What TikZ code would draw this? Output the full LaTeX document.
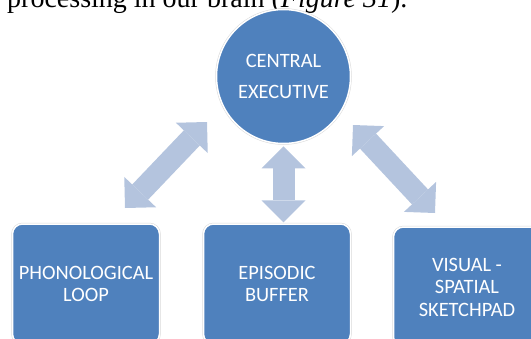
\documentclass[tikz,border=0pt]{standalone}
\usepackage{fontspec}
\setmainfont{Liberation Serif}
\newfontfamily\unitfont{Carlito}
\usetikzlibrary{arrows.meta}
\definecolor{unitblue}{RGB}{79,129,189}
\definecolor{linkblue}{RGB}{180,196,222}

\begin{document}
\begin{tikzpicture}
[x=1pt,y=-1pt,%
  unit/.style={fill=unitblue,text=white,align=center,%
    preaction={draw=black!15,line width=2.5pt},draw=white,line width=1.5pt},%
  module/.style={unit,rectangle,rounded corners=10pt,minimum width=147pt,minimum height=120pt,%
    font=\unitfont\fontsize{20.4}{22.5}\selectfont},%
  link/.style={draw=linkblue,line width=22pt,{Triangle[length=22pt,width=44pt,line width=0pt]}-{Triangle[length=22pt,width=44pt,line width=0pt]}}]
\useasboundingbox (0,0) rectangle (531,338);
\clip (0,0) rectangle (531,338);
% caption line cut by the top edge
\node[anchor=base west,inner sep=0pt,font=\fontsize{28}{32}\selectfont] (cap) at (7,7)
  {processing in our brain (\textit{Figure 31}).};
% model components
\node[unit,circle,minimum size=134pt,inner sep=0pt,font=\unitfont\fontsize{20.4}{31}\selectfont]
  (ce) at (283.5,76.5) {CENTRAL\\EXECUTIVE};
\node[module] (pl) at (86,284) {PHONOLOGICAL\\LOOP};
\node[module] (eb) at (277,284) {EPISODIC\\BUFFER};
\node[module] (vs) at (467,287) {VISUAL -\\SPATIAL\\SKETCHPAD};
% arrow ends
\coordinate (ce-pl) at (207,122);
\coordinate (pl-ce) at (125,208);
\coordinate (ce-vs) at (353,125);
\coordinate (vs-ce) at (435,213);
% links
\draw[link] (ce-pl) -- (pl-ce);
\draw[link,shorten <=2pt,shorten >=1pt] (ce.south) -- (ce.south |- eb.north);
\draw[link] (ce-vs) -- (vs-ce);
\end{tikzpicture}
\end{document}
